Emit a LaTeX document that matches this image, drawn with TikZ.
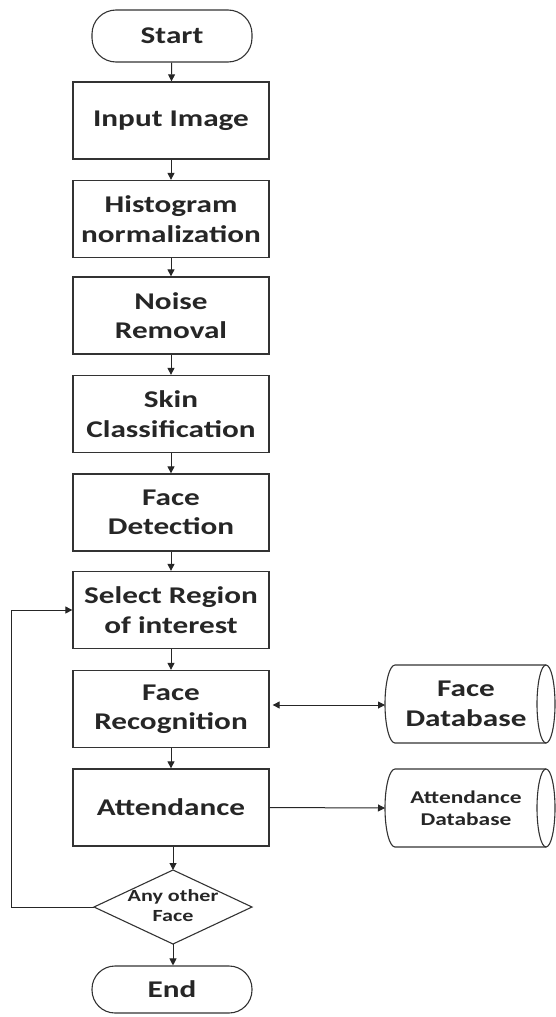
\documentclass[tikz,border=0pt]{standalone}
\usepackage{fontspec}
\setmainfont{Carlito}[FakeStretch=1.3]
\usetikzlibrary{arrows.meta,calc}
\begin{document}
\begin{tikzpicture}[x=1pt,y=-1pt,
  every node/.style={text=black!85, font=\bfseries\fontsize{24}{29.5}\selectfont},
  procbox/.style={draw=black!80, line width=1.3pt, minimum width=196pt, minimum height=77pt, align=center, inner sep=0pt},
  term/.style={draw=black!80, line width=1.1pt, rounded corners=24pt, minimum width=160pt, align=center, inner sep=0pt},
  dbtext/.style={align=center, inner sep=0pt},
  shapeline/.style={draw=black!80, line width=1.1pt},
  arr/.style={draw=black!85, line width=1pt, -{Triangle[width=7pt,length=7pt]}},
  dblarr/.style={draw=black!85, line width=1pt, {Triangle[width=7pt,length=7pt]}-{Triangle[width=7pt,length=7pt]}}
]
\useasboundingbox (0,0) rectangle (556,1017);

\node[term, minimum height=52pt] (start) at (172,36) {Start};
\node[procbox] (input) at (171,120.5) {Input Image};
\node[procbox] (hist) at (171,219) {Histogram\\normalization};
\node[procbox] (noise) at (171,315.5) {Noise\\Removal};
\node[procbox] (skin) at (171,414) {Skin\\Classification};
\node[procbox] (fdet) at (171,512.5) {Face\\Detection};
\node[procbox] (roi) at (171,610) {Select Region\\of interest};
\node[procbox] (frec) at (171,709) {Face\\Recognition};
\node[procbox] (att) at (171,807.5) {Attendance};
\node[term, minimum height=47pt, rounded corners=23pt] (stop) at (172,989.5) {End};

% decision diamond
\coordinate (dT) at (173,870);
\coordinate (dB) at (173,944);
\coordinate (dL) at (94,907);
\coordinate (dR) at (252,907);
\draw[shapeline] (dT) -- (dR) -- (dB) -- (dL) -- cycle;
\node[dbtext, font=\bfseries\fontsize{17}{20}\selectfont] (dec) at (173,906) {Any other\\Face};

% databases
\draw[shapeline] (395,665) -- (546,665) (395,743) -- (546,743)
  (395,665) arc[start angle=90, end angle=270, x radius=10, y radius=-39];
\draw[shapeline] (546,704) ellipse[x radius=9, y radius=39];
\node[dbtext] (fdb) at (466,704) {Face\\Database};
\coordinate (fdbL) at (385,705);

\draw[shapeline] (395,769) -- (546,769) (395,847) -- (546,847)
  (395,769) arc[start angle=90, end angle=270, x radius=10, y radius=-39];
\draw[shapeline] (546,808) ellipse[x radius=9, y radius=39];
\node[dbtext, font=\bfseries\fontsize{18}{22}\selectfont] (adb) at (466,808) {Attendance\\Database};
\coordinate (adbL) at (385,808);

% connectors
\draw[arr] (start) -- (input);
\draw[arr] (input) -- (hist);
\draw[arr] (hist) -- (noise);
\draw[arr] (noise) -- (skin);
\draw[arr] (skin) -- (fdet);
\draw[arr] (fdet) -- (roi);
\draw[arr] (roi) -- (frec);
\draw[arr] (frec) -- (att);
\draw[arr] (att.south -| dT) -- (dT);
\draw[arr] (dB) -- (stop.north -| dB);
\draw[dblarr] ($(frec.east)+(3,-4)$) -- (fdbL);
\draw[arr] (att.east) -- (adbL);
\draw[arr] (dL) -- (11,907) -- (11,610) -- (roi.west);
\end{tikzpicture}
\end{document}
